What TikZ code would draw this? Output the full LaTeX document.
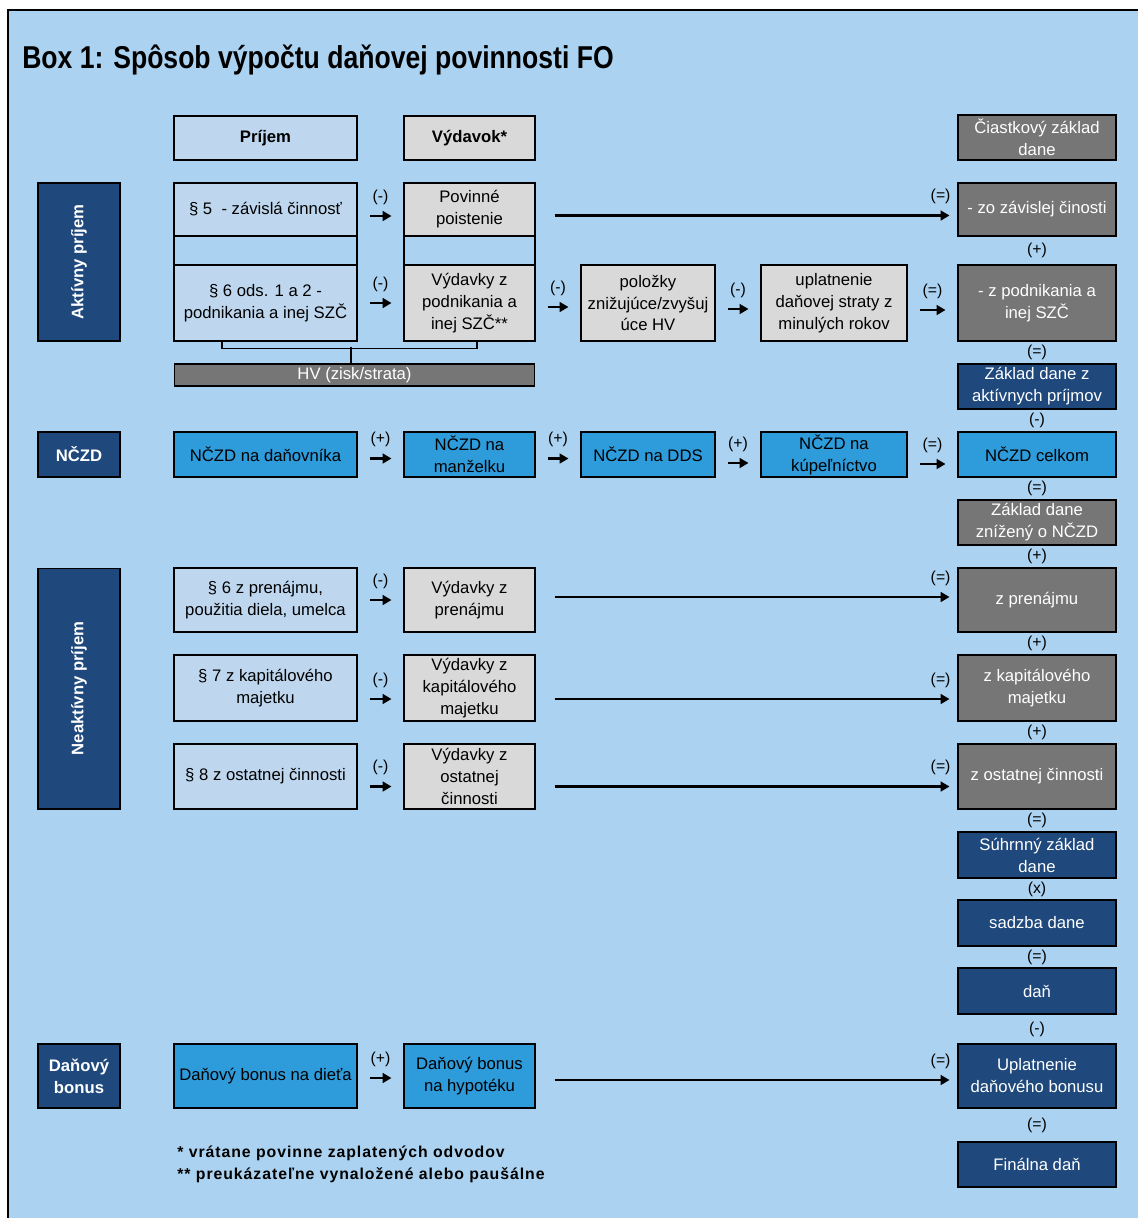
\documentclass[tikz,border=0pt]{standalone}
\usepackage{fontspec}
\setmainfont{Liberation Sans}
\usepackage{tikz}
\usetikzlibrary{positioning, arrows.meta, calc}
\definecolor{FrameBlue}{RGB}{171,211,241}
\definecolor{IncBlue}{RGB}{190,215,238}
\definecolor{ExpGray}{RGB}{217,217,217}
\definecolor{SumGray}{RGB}{118,118,118}
\definecolor{DarkBlue}{RGB}{31,73,125}
\definecolor{MidBlue}{RGB}{46,155,219}

\begin{document}
\begin{tikzpicture}[x=0.02cm, y=-0.02cm,
  box/.style={rectangle, draw=black, line width=0.6pt, inner sep=1pt, align=center, font=\fontsize{9.5}{12.5}\selectfont},
  head/.style={font=\bfseries\fontsize{9.5}{12.5}\selectfont},
  inc/.style={box, fill=IncBlue, minimum width=3.66cm},
  expn/.style={box, fill=ExpGray, minimum width=2.62cm},
  gap/.style={box, fill=FrameBlue},
  midbox/.style={box, fill=ExpGray},
  sumbox/.style={box, fill=SumGray, text=white, minimum width=3.16cm},
  resbox/.style={box, fill=DarkBlue, text=white, minimum width=3.16cm},
  nczdbox/.style={box, fill=MidBlue},
  catbox/.style={box, fill=DarkBlue, text=white, minimum width=1.64cm, font=\bfseries\fontsize{9.5}{12.5}\selectfont},
  sign/.style={font=\fontsize{9}{10}\selectfont, inner sep=1pt},
  arr/.style={-{Triangle[length=5pt, width=5.5pt]}, line width=1.3pt, shorten <=0.24cm, shorten >=0.24cm},
  longarr/.style={-{Triangle[length=5pt, width=5.5pt]}, line width=1.3pt, shorten <=0.38cm, shorten >=0.16cm},
  bracket/.style={line width=0.8pt},
  footnote/.style={anchor=west, inner sep=0pt, font=\bfseries\fontsize{9}{10}\selectfont\addfontfeature{LetterSpace=6}}
]
\useasboundingbox (0,0) rectangle (1138,1218);
\fill[FrameBlue] (8,10) rectangle (1138,1218);
\draw[line width=1.2pt] (8,1218) -- (8,10) -- (1138,10);

\node[anchor=west, font=\bfseries\fontsize{18}{20}\selectfont, xscale=0.84, inner sep=0pt] (title) at (22,60) {Box 1: Spôsob výpočtu daňovej povinnosti FO};

% Headers
\node[inc, head, minimum height=0.88cm] (hprij) at (265.5,138) {Príjem};
\node[expn, head, minimum height=0.88cm] (hvyd) at (469.5,138) {Výdavok*};
\node[sumbox, minimum height=0.9cm] (hczd) at (1037,137.5) {Čiastkový základ\\dane};

% Categories
\node[catbox, rotate=90, minimum width=3.16cm, minimum height=1.64cm] (akt) at (79,262) {Aktívny príjem};
\node[catbox, minimum height=0.9cm] (ncat) at (79,454.5) {NČZD};
\node[catbox, rotate=90, minimum width=4.82cm, minimum height=1.64cm] (neakt) at (79,688.5) {Neaktívny príjem};
\node[catbox, minimum height=1.28cm] (bcat) at (79,1076) {Daňový\\bonus};

% Aktivny prijem
\node[inc, minimum height=1.06cm] (p5) at (265.5,209.5) {§ 5\ \ - závislá činnosť};
\node[gap, minimum width=3.66cm, minimum height=0.58cm] (gap1) at (265.5,250.5) {};
\node[inc, minimum height=1.52cm] (p6) at (265.5,303) {§ 6 ods. 1 a 2 -\\podnikania a inej SZČ};
\node[expn, minimum height=1.06cm] (pov) at (469.5,209.5) {Povinné\\poistenie};
\node[gap, minimum width=2.62cm, minimum height=0.58cm] (gap2) at (469.5,250.5) {};
\node[expn, minimum height=1.52cm] (vpod) at (469.5,303) {Výdavky z\\podnikania a\\inej SZČ**};
\node[midbox, minimum width=2.68cm, minimum height=1.52cm] (polozky) at (648,303) {položky\\znižujúce/zvyšuj\\úce HV};
\node[midbox, minimum width=2.92cm, minimum height=1.52cm] (strata) at (834,303) {uplatnenie\\daňovej straty z\\minulých rokov};
\node[sumbox, minimum height=1.06cm] (zzav) at (1037,209.5) {- zo závislej činosti};
\node[sumbox, minimum height=1.52cm] (zpod) at (1037,303) {- z podnikania a\\inej SZČ};
\node[resbox, minimum height=0.9cm] (zdakt) at (1037,386.5) {Základ dane z\\aktívnych príjmov};
\node[box, fill=SumGray, text=white, minimum width=7.22cm, minimum height=0.44cm] (hv) at (354.5,375) {HV (zisk/strata)};

\draw[bracket] ([xshift=-0.87cm]p6.south) -- ++(0,-0.14cm) -| ([xshift=0.15cm]vpod.south);
\draw[bracket] ([xshift=-0.07cm]hv.north) -- ++(0,0.32cm);

\draw[arr] ([yshift=-0.13cm]p5.east) -- node[sign, midway, above=5pt] {(-)} ([yshift=-0.13cm]pov.west);
\draw[arr] (p6.east) -- node[sign, midway, above=5pt] {(-)} (vpod.west);
\draw[arr] ([yshift=-0.08cm]vpod.east) -- node[sign, midway, above=5pt] {(-)} ([yshift=-0.08cm]polozky.west);
\draw[arr] ([yshift=-0.12cm]polozky.east) -- node[sign, midway, above=5pt] {(-)} ([yshift=-0.12cm]strata.west);
\draw[arr] ([yshift=-0.14cm]strata.east) -- node[sign, midway, above=5pt] {(=)} ([yshift=-0.14cm]zpod.west);
\draw[longarr] ([yshift=-0.12cm]pov.east) -- node[sign, pos=0.96, above=5pt] {(=)} ([yshift=-0.12cm]zzav.west);

% NCZD
\node[nczdbox, minimum width=3.66cm, minimum height=0.9cm] (n1) at (265.5,454.5) {NČZD na daňovníka};
\node[nczdbox, minimum width=2.62cm, minimum height=0.9cm] (n2) at (469.5,454.5) {NČZD na\\manželku};
\node[nczdbox, minimum width=2.68cm, minimum height=0.9cm] (n3) at (648,454.5) {NČZD na DDS};
\node[nczdbox, minimum width=2.92cm, minimum height=0.9cm] (n4) at (834,454.5) {NČZD na\\kúpeľníctvo};
\node[nczdbox, minimum width=3.16cm, minimum height=0.9cm] (ncelk) at (1037,454.5) {NČZD celkom};
\node[sumbox, minimum height=0.9cm] (zdnczd) at (1037,522.5) {Základ dane\\znížený o NČZD};

\draw[arr] ([yshift=-0.08cm]n1.east) -- node[sign, midway, above=5pt] {(+)} ([yshift=-0.08cm]n2.west);
\draw[arr] ([yshift=-0.08cm]n2.east) -- node[sign, midway, above=5pt] {(+)} ([yshift=-0.08cm]n3.west);
\draw[arr] ([yshift=-0.17cm]n3.east) -- node[sign, midway, above=5pt] {(+)} ([yshift=-0.17cm]n4.west);
\draw[arr] ([yshift=-0.19cm]n4.east) -- node[sign, midway, above=5pt] {(=)} ([yshift=-0.19cm]ncelk.west);

% Neaktivny prijem
\node[inc, minimum height=1.28cm] (p6b) at (265.5,600) {§ 6 z prenájmu,\\použitia diela, umelca};
\node[inc, minimum height=1.32cm] (p7) at (265.5,688) {§ 7 z kapitálového\\majetku};
\node[inc, minimum height=1.3cm] (p8) at (265.5,776.5) {§ 8 z ostatnej činnosti};
\node[expn, minimum height=1.28cm] (vpren) at (469.5,600) {Výdavky z\\prenájmu};
\node[expn, minimum height=1.32cm] (vkap) at (469.5,688) {Výdavky z\\kapitálového\\majetku};
\node[expn, minimum height=1.3cm] (vost) at (469.5,776.5) {Výdavky z\\ostatnej\\činnosti};
\node[sumbox, minimum height=1.28cm] (zpren) at (1037,600) {z prenájmu};
\node[sumbox, minimum height=1.32cm] (zkap) at (1037,688) {z kapitálového\\majetku};
\node[sumbox, minimum height=1.3cm] (zost) at (1037,776.5) {z ostatnej činnosti};

\draw[arr] (p6b.east) -- node[sign, midway, above=5pt] {(-)} (vpren.west);
\draw[arr] ([yshift=-0.22cm]p7.east) -- node[sign, midway, above=5pt] {(-)} ([yshift=-0.22cm]vkap.west);
\draw[arr] ([yshift=-0.2cm]p8.east) -- node[sign, midway, above=5pt] {(-)} ([yshift=-0.2cm]vost.west);
\draw[longarr] ([yshift=0.06cm]vpren.east) -- node[sign, pos=0.96, above=5pt] {(=)} ([yshift=0.06cm]zpren.west);
\draw[longarr] ([yshift=-0.22cm]vkap.east) -- node[sign, pos=0.96, above=5pt] {(=)} ([yshift=-0.22cm]zkap.west);
\draw[longarr] ([yshift=-0.2cm]vost.east) -- node[sign, pos=0.96, above=5pt] {(=)} ([yshift=-0.2cm]zost.west);

% Tax
\node[resbox, minimum height=0.92cm] (suhrn) at (1037,855) {Súhrnný základ\\dane};
\node[resbox, minimum height=0.92cm] (sadzba) at (1037,923) {sadzba dane};
\node[resbox, minimum height=0.92cm] (dan) at (1037,991) {daň};
\node[resbox, minimum height=1.28cm] (uplat) at (1037,1076) {Uplatnenie\\daňového bonusu};
\node[resbox, minimum height=0.9cm] (final) at (1037,1164.5) {Finálna daň};

% Danovy bonus
\node[nczdbox, minimum width=3.66cm, minimum height=1.28cm] (b1) at (265.5,1076) {Daňový bonus na dieťa};
\node[nczdbox, minimum width=2.62cm, minimum height=1.28cm] (b2) at (469.5,1076) {Daňový bonus\\na hypotéku};
\draw[arr] ([yshift=-0.04cm]b1.east) -- node[sign, midway, above=5pt] {(+)} ([yshift=-0.04cm]b2.west);
\draw[longarr] ([yshift=-0.08cm]b2.east) -- node[sign, pos=0.96, above=5pt] {(=)} ([yshift=-0.08cm]uplat.west);

% Signs in the right column
\node[sign] at ($(zzav.south)!0.5!(zpod.north)$) {(+)};
\node[sign] at ($(zpod.south)!0.5!(zdakt.north)$) {(=)};
\node[sign] at ($(zdakt.south)!0.5!(ncelk.north)$) {(-)};
\node[sign] at ($(ncelk.south)!0.5!(zdnczd.north)$) {(=)};
\node[sign] at ($(zdnczd.south)!0.5!(zpren.north)$) {(+)};
\node[sign] at ($(zpren.south)!0.5!(zkap.north)$) {(+)};
\node[sign] at ($(zkap.south)!0.5!(zost.north)$) {(+)};
\node[sign] at ($(zost.south)!0.5!(suhrn.north)$) {(=)};
\node[sign] at ($(suhrn.south)!0.5!(sadzba.north)$) {(x)};
\node[sign] at ($(sadzba.south)!0.5!(dan.north)$) {(=)};
\node[sign] at ($(dan.south)!0.5!(uplat.north)$) {(-)};
\node[sign] at ($(uplat.south)!0.5!(final.north)$) {(=)};

% Footnotes
\node[footnote] (fn1) at (177,1153) {* vrátane povinne zaplatených odvodov};
\node[footnote] (fn2) at (177,1175) {** preukázateľne vynaložené alebo paušálne};

\end{tikzpicture}
\end{document}
